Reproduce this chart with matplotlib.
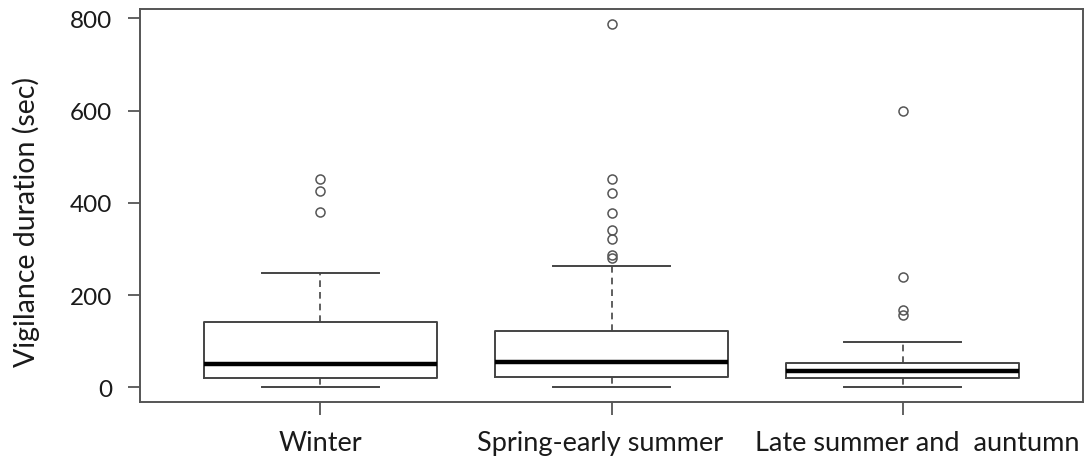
import matplotlib
matplotlib.use("Agg")
import matplotlib.pyplot as plt
from matplotlib.transforms import ScaledTranslation

plt.rcParams['font.family'] = ['Lato', 'DejaVu Sans']

# summary values (sec)
seasons = ["Winter", "Spring-early summer", "Late summer and  auntumn"]
whisker_low = [0, 0, 0]
q1 = [20, 22, 20]
median = [50, 56, 35]
q3 = [141, 122, 54]
whisker_high = [249, 264, 98]
outliers = [
    [381, 426, 451],
    [280, 287, 322, 341, 379, 421, 451, 789],
    [157, 168, 240, 599],
]

stats = []
for i, name in enumerate(seasons):
    stats.append({
        'label': name,
        'whislo': whisker_low[i],
        'q1': q1[i],
        'med': median[i],
        'q3': q3[i],
        'whishi': whisker_high[i],
        'fliers': outliers[i],
    })

fig = plt.figure(figsize=(10.86, 4.64), dpi=100)
ax = fig.add_axes([140 / 1086, 1 - 403 / 464, 943 / 1086, 393 / 464])

edge = '#444444'
ax.bxp(stats, positions=[1, 2, 3], widths=0.8,
       boxprops=dict(color=edge, linewidth=1.4),
       medianprops=dict(color='black', linewidth=3.2),
       whiskerprops=dict(color=edge, linewidth=1.2, linestyle=(0, (4, 3))),
       capprops=dict(color=edge, linewidth=1.4),
       capwidths=0.4,
       flierprops=dict(marker='o', markerfacecolor='none', markeredgecolor='#555555',
                       markersize=6.5, markeredgewidth=1.1))

# R-style 4% padding around data range
lo = min(whisker_low)
hi = max(max(o) for o in outliers)
pad = 0.04 * (hi - lo)
ax.set_ylim(lo - pad, hi + pad)
ax.set_xlim(0.5 - 0.12, 3.5 + 0.12)

ax.set_yticks([0, 200, 400, 600, 800])
ax.set_ylabel("Vigilance duration (sec)", fontsize=20.5, color='#1a1a1a')
ax.yaxis.set_label_coords(-0.106, 0.46)
ax.tick_params(axis='both', length=9, width=1.3, color='#555555',
               labelcolor='#1a1a1a')
ax.tick_params(axis='x', pad=11, labelsize=19.5)
ax.tick_params(axis='y', pad=11, labelsize=17.5)
for s in ax.spines.values():
    s.set_color('#555555')
    s.set_linewidth(1.4)

# the x labels in the original sit slightly off their ticks
for lab, dx in zip(ax.get_xticklabels(), [0, -11, 15]):
    lab.set_transform(lab.get_transform() + ScaledTranslation(dx / 100, 0, fig.dpi_scale_trans))

fig.savefig("out.png", dpi=100)
